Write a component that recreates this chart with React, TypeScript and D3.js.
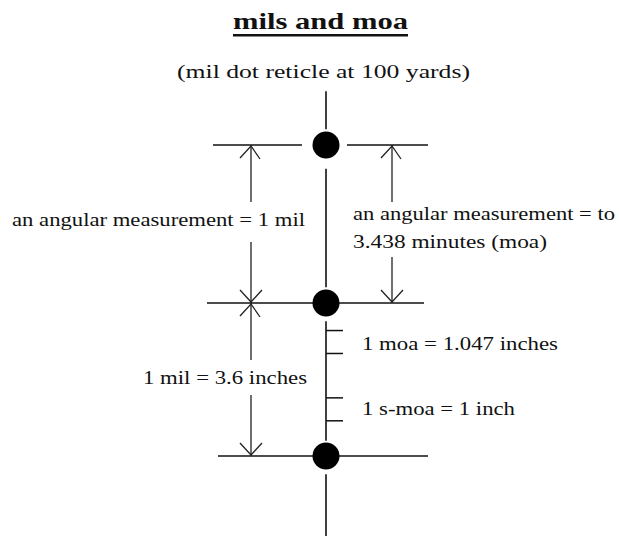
import React, { useEffect, useRef } from 'react';
import * as d3 from 'd3';

// reticle dots, in mils from the top dot
const dotMils = [0, 1, 2];
// small moa ticks below the middle dot, in mils
const moaTicks = [1.18, 1.33, 1.62, 1.77];
// center line segments (mils), leaving a gap around the dots
const centerSegments = [
  [-0.34, -0.1],
  [0.15, 0.9],
  [1.12, 1.9],
  [2.12, 2.6],
];
// horizontal reticle lines: [mil, x0, x1]
const crossLines = [
  [0, 213, 302],
  [0, 347, 428],
  [1, 207, 424],
  [2, 218, 428],
];
// dimension arrows: [x, fromMil, toMil, gapTop, gapBottom]
const dimArrows = [
  [251, 0, 1, 202, 242],
  [251, 1, 2, 360, 395],
  [392, 0, 1, 202, 257],
];
const labels = [
  { text: 'an angular measurement = 1 mil', x: 12, y: 226, w: 293 },
  { text: '1 mil = 3.6 inches', x: 143, y: 384, w: 164 },
  { text: 'an angular measurement = to', x: 353, y: 220, w: 262 },
  { text: '3.438 minutes (moa)', x: 353, y: 248, w: 194 },
  { text: '1 moa = 1.047 inches', x: 362, y: 350, w: 196 },
  { text: '1 s-moa = 1 inch', x: 362, y: 415, w: 153 },
];

const App = () => {
  const svgRef = useRef(null);

  useEffect(() => {
    const svg = d3.select(svgRef.current);
    svg.selectAll('*').remove();

    const width = 619;
    const height = 536;
    const cx = 326;
    const y = d3.scaleLinear().domain([0, 1, 2]).range([145, 303, 456]);
    const font = 'Liberation Serif, DejaVu Serif, serif';
    const ink = '#111';

    svg.append('rect').attr('width', width).attr('height', height).attr('fill', '#fff');

    // title
    svg.append('text')
      .attr('x', 233).attr('y', 29)
      .style('font-family', font).attr('font-size', 24).attr('font-weight', 'bold')
      .attr('textLength', 175).attr('lengthAdjust', 'spacingAndGlyphs')
      .attr('fill', ink)
      .text('mils and moa');
    svg.append('rect')
      .attr('x', 233).attr('y', 34).attr('width', 175).attr('height', 2.5)
      .attr('fill', ink);

    svg.append('text')
      .attr('x', 177).attr('y', 78)
      .style('font-family', font).attr('font-size', 18)
      .attr('textLength', 293).attr('lengthAdjust', 'spacingAndGlyphs')
      .attr('fill', ink)
      .text('(mil dot reticle at 100 yards)');

    // center line
    svg.selectAll('.seg')
      .data(centerSegments)
      .join('line')
      .attr('x1', cx).attr('x2', cx)
      .attr('y1', d => y(d[0])).attr('y2', d => y(d[1]))
      .attr('stroke', ink).attr('stroke-width', 1.6);

    // cross lines
    svg.selectAll('.cross')
      .data(crossLines)
      .join('line')
      .attr('x1', d => d[1]).attr('x2', d => d[2])
      .attr('y1', d => y(d[0])).attr('y2', d => y(d[0]))
      .attr('stroke', ink).attr('stroke-width', 1.6);

    // moa ticks
    svg.selectAll('.tick')
      .data(moaTicks)
      .join('line')
      .attr('x1', cx).attr('x2', cx + 17)
      .attr('y1', d => y(d)).attr('y2', d => y(d))
      .attr('stroke', ink).attr('stroke-width', 1.5);

    // dots
    svg.selectAll('.dot')
      .data(dotMils)
      .join('circle')
      .attr('cx', cx).attr('cy', d => y(d)).attr('r', 13.5)
      .attr('fill', '#000');

    // dimension arrows
    const g = svg.append('g').attr('stroke', '#222').attr('stroke-width', 1.3).attr('fill', 'none');
    dimArrows.forEach(([x, a, b, g0, g1]) => {
      const top = y(a);
      const bot = y(b);
      g.append('line').attr('x1', x).attr('x2', x).attr('y1', top).attr('y2', g0);
      g.append('line').attr('x1', x).attr('x2', x).attr('y1', g1).attr('y2', bot);
      g.append('path').attr('d', `M${x - 11},${top + 13}L${x},${top + 1}L${x + 9},${top + 14}`);
      g.append('path').attr('d', `M${x - 11},${bot - 13}L${x},${bot - 1}L${x + 11},${bot - 13}`);
    });

    svg.selectAll('.label')
      .data(labels)
      .join('text')
      .attr('x', d => d.x).attr('y', d => d.y)
      .style('font-family', font).attr('font-size', 18)
      .attr('textLength', d => d.w).attr('lengthAdjust', 'spacingAndGlyphs')
      .attr('fill', ink)
      .text(d => d.text);
  }, []);

  return (
    <svg ref={svgRef} width={619} height={536} style={{ position: 'absolute', left: 0, top: 0 }}></svg>
  );
};

export default App;
